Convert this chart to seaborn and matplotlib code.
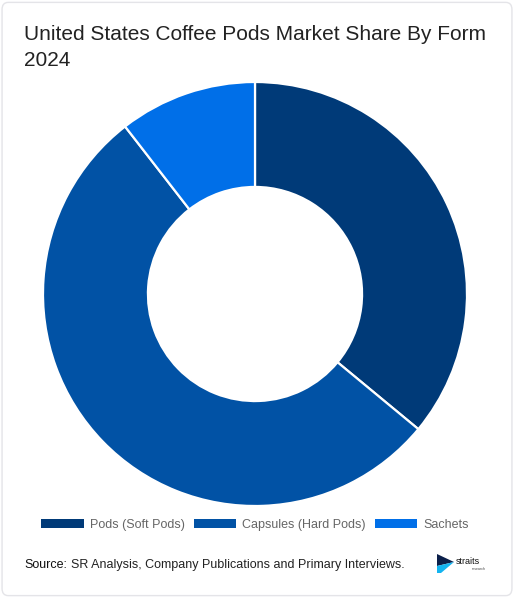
import matplotlib
matplotlib.use("Agg")
import matplotlib.pyplot as plt
import seaborn as sns
from matplotlib.patches import FancyBboxPatch, Polygon, Patch

forms = ["Pods (Soft Pods)", "Capsules (Hard Pods)", "Sachets"]
shares = [36.0, 53.5, 10.5]
colors = ["#003a78", "#0152a5", "#006fe8"]

sns.set_theme(style="white")
plt.rcParams["font.family"] = ["Liberation Sans", "DejaVu Sans"]

fig = plt.figure(figsize=(5.14, 5.98), dpi=100)
fig.patch.set_facecolor("white")

# card outline
card = FancyBboxPatch((0.004, 0.004), 0.992, 0.992, boxstyle="round,pad=0,rounding_size=0.012",
                      transform=fig.transFigure, facecolor="none", edgecolor="#e4e4e8", lw=1.0,
                      zorder=-1)
fig.patches.append(card)

W, H = 514, 598
cx, cy, r = 255, 294, 212
ax = fig.add_axes([(cx - r) / W, (H - cy - r) / H, 2 * r / W, 2 * r / H])
ax.pie(shares, colors=sns.color_palette(colors), startangle=90, counterclock=False,
       radius=1, wedgeprops=dict(width=0.495, edgecolor="white", linewidth=1.6))
ax.set_xlim(-1, 1)
ax.set_ylim(-1, 1)
ax.set_axis_off()

fig.text(24 / W, 1 - 34 / H, "United States Coffee Pods Market Share By Form", fontsize=15,
         color="#222222", va="center", ha="left")
fig.text(24 / W, 1 - 61 / H, "2024", fontsize=15, color="#222222", va="center", ha="left")

handles = [Patch(facecolor=c, edgecolor="none") for c in colors]
leg = fig.legend(handles, forms, loc="center", bbox_to_anchor=(255 / W, 1 - 525 / H), ncol=3,
                 frameon=False, fontsize=9, handlelength=3.4, handleheight=0.65,
                 handletextpad=0.5, columnspacing=0.7, labelcolor="#666666")

fig.text(24 / W, 1 - 565 / H, "Source:", fontsize=9, color="#111111", va="center",
         ha="left")
fig.text(71 / W, 1 - 565 / H, "SR Analysis, Company Publications and Primary Interviews.",
         fontsize=9, color="#222222", va="center", ha="left")

# small logo
def px(x, y):
    return (x / W, 1 - y / H)

fig.patches.append(Polygon([px(437, 554), px(454, 562), px(437, 566)], closed=True,
                           transform=fig.transFigure, facecolor="#0b1f4a", edgecolor="none"))
fig.patches.append(Polygon([px(437, 566), px(454, 562), px(441, 573), px(437, 573)], closed=True,
                           transform=fig.transFigure, facecolor="#14b4f0", edgecolor="none"))
fig.text(456 / W, 1 - 561 / H, "straits", fontsize=6.5, color="#111111", va="center", ha="left")
fig.text(486 / W, 1 - 569 / H, "research", fontsize=2.5, color="#444444", va="center", ha="right")

fig.savefig("out.png", dpi=100, facecolor="white")
